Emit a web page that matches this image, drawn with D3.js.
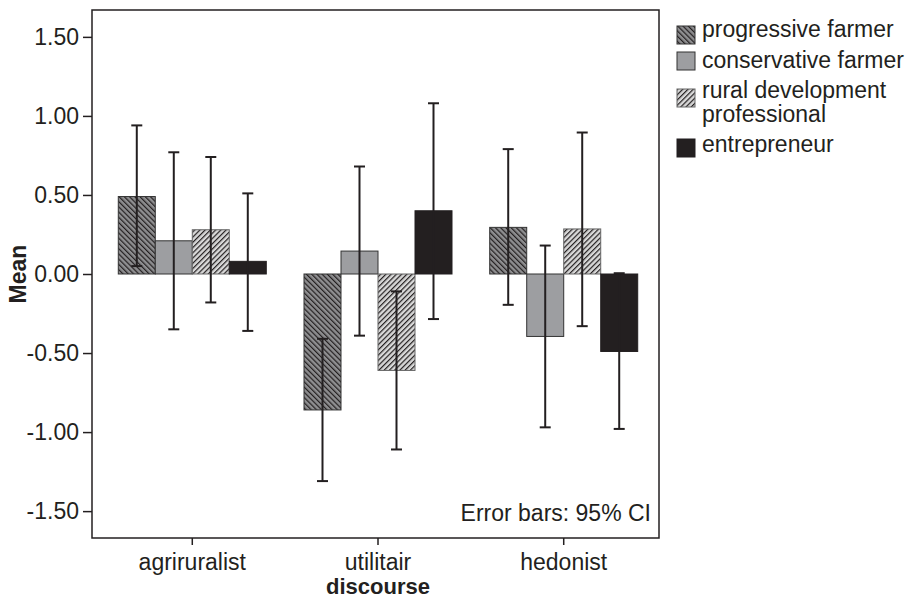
<!DOCTYPE html>
<html>
<head>
<meta charset="utf-8">
<script src="https://cdn.jsdelivr.net/npm/d3@7"></script>
<style>
  body { margin:0; background:#fff; }
  svg { font-family: "Liberation Sans", Arial, sans-serif; }
  .axis text { font-size:23px; fill:#231f20; }
  .axis path, .axis line { stroke:#231f20; stroke-width:1.5; }
</style>
</head>
<body>
<script>
// discourse categories on the x axis
const discourses = ['agriruralist', 'utilitair', 'hedonist']
const groups = ['progressive farmer', 'conservative farmer', 'rural development professional', 'entrepreneur']
const yTicks = [1.5, 1, 0.5, 0, -0.5, -1, -1.5]

// means per group, one value per discourse
const progressive = [0.49, -0.86, 0.295]
const conservative = [0.21, 0.145, -0.395]
const ruralDev = [0.28, -0.61, 0.285]
const entrepreneur = [0.08, 0.40, -0.49]

// 95% CI bounds [low, high]
const progressiveCI = [[0.05, 0.94], [-1.31, -0.41], [-0.195, 0.79]]
const conservativeCI = [[-0.35, 0.77], [-0.39, 0.68], [-0.97, 0.18]]
const ruralDevCI = [[-0.18, 0.74], [-1.11, -0.11], [-0.33, 0.895]]
const entrepreneurCI = [[-0.36, 0.51], [-0.285, 1.08], [-0.98, 0.005]]

const means = [progressive, conservative, ruralDev, entrepreneur]
const cis = [progressiveCI, conservativeCI, ruralDevCI, entrepreneurCI]

const W = 909, H = 600
const frame = {left:92, right:659, top:10, bottom:538}

const svg = d3.select('body').append('svg').attr('width',W).attr('height',H)
const defs = svg.append('defs')

// hatch patterns
function hatch(id, bg, dir){
  const s = 3.7
  const p = defs.append('pattern').attr('id',id)
    .attr('patternUnits','userSpaceOnUse').attr('width',s).attr('height',s)
    .attr('patternTransform',`rotate(${dir*45})`)
  p.append('rect').attr('width',s).attr('height',s).attr('fill',bg)
  p.append('line').attr('x1',0.6).attr('y1',0).attr('x2',0.6).attr('y2',s)
    .attr('stroke','#231f20').attr('stroke-width',1.2)
}
hatch('hatchBack','#8e8e90',-1)
hatch('hatchFwd','#d8d8d8',1)

const fills = ['url(#hatchBack)', '#9d9ea1', 'url(#hatchFwd)', '#231f20']
const strokes = ['#333', '#333', '#666', '#231f20']

const x0 = d3.scaleBand().domain(discourses).range([92, 664]).paddingOuter(0.04)
const x1 = d3.scaleBand().domain(groups).range([0, 148])
const y = d3.scaleLinear().domain([-1.67, 1.67]).range([frame.bottom, frame.top])

// bars
const rows = []
discourses.forEach((d,i) => groups.forEach((g,j) => rows.push({d, g, j, v:means[j][i], ci:cis[j][i]})))
const off = (x0.bandwidth() - x1.range()[1]) / 2

svg.append('g').selectAll('rect').data(rows).enter().append('rect')
  .attr('x', r => x0(r.d) + off + x1(r.g))
  .attr('width', x1.bandwidth())
  .attr('y', r => y(Math.max(0, r.v)))
  .attr('height', r => Math.abs(y(r.v) - y(0)))
  .attr('fill', r => fills[r.j])
  .attr('stroke', r => strokes[r.j])
  .attr('stroke-width', 1)

// error bars
const eb = svg.append('g').attr('stroke','#231f20').attr('stroke-width',2)
rows.forEach(r => {
  const cx = x0(r.d) + off + x1(r.g) + x1.bandwidth()/2
  eb.append('line').attr('x1',cx).attr('x2',cx).attr('y1',y(r.ci[0])).attr('y2',y(r.ci[1]))
  r.ci.forEach(v => eb.append('line').attr('x1',cx-5.5).attr('x2',cx+5.5).attr('y1',y(v)).attr('y2',y(v)))
})

// frame
svg.append('rect').attr('x',frame.left).attr('y',frame.top)
  .attr('width',frame.right-frame.left).attr('height',frame.bottom-frame.top)
  .attr('fill','none').attr('stroke','#231f20').attr('stroke-width',1.5)

// axes
const yAxis = svg.append('g').attr('class','axis').attr('transform',`translate(${frame.left},0)`)
  .call(d3.axisLeft(y).tickValues(yTicks).tickSize(9).tickPadding(4))
yAxis.select('.domain').remove()
yAxis.selectAll('text').text(d => d3.format('.2f')(d).replace('−','-'))

const xAxis = svg.append('g').attr('class','axis').attr('transform',`translate(0,${frame.bottom})`)
  .call(d3.axisBottom(x0).tickSize(7).tickPadding(9))
xAxis.select('.domain').remove()

svg.append('text').attr('x',378).attr('y',594).attr('text-anchor','middle')
  .attr('font-size',22).attr('font-weight','bold').attr('fill','#231f20').text('discourse')
svg.append('text').attr('transform','translate(26,274) rotate(-90)').attr('text-anchor','middle')
  .attr('font-size',23).attr('font-weight','bold').attr('fill','#231f20').text('Mean')

svg.append('text').attr('x',651).attr('y',521).attr('text-anchor','end')
  .attr('font-size',23).attr('fill','#231f20').text('Error bars: 95% CI')

// legend
const swatchTop = [26, 52, 89, 139]
const baseline = [37, 68, 98, 152]
const lg = svg.append('g').attr('transform','translate(677,0)')
groups.forEach((g,j) => {
  lg.append('rect').attr('x',0).attr('y',swatchTop[j]).attr('width',18).attr('height',18)
    .attr('fill',fills[j]).attr('stroke',strokes[j]).attr('stroke-width',1)
  const t = lg.append('text').attr('x',25).attr('y',baseline[j]).attr('font-size',23).attr('fill','#231f20')
  if(j==2){
    t.append('tspan').attr('x',25).text('rural development')
    t.append('tspan').attr('x',25).attr('dy',24).text('professional')
  } else t.text(g)
})
</script>
</body>
</html>
